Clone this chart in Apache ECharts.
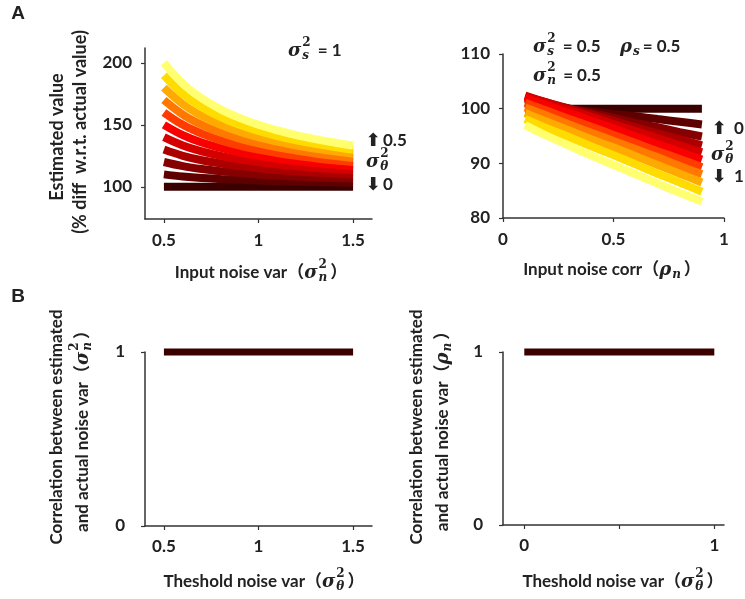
<!DOCTYPE html>
<html><head><meta charset="utf-8">
<script src="https://cdn.jsdelivr.net/npm/echarts@6/dist/echarts.min.js"></script>
<style>html,body{margin:0;padding:0;background:#fff}#c{width:745px;height:599px}</style>
</head><body><div id="c"></div><script>
// ---------------- DATA ----------------
// Panel A left: estimated value (% of actual) vs input noise var, one row per threshold noise var
const noiseVar = [0.5, 0.6, 0.7, 0.8, 0.9, 1.0, 1.1, 1.2, 1.3, 1.4, 1.5];
const thetaLeft = [0, 0.05, 0.1, 0.15, 0.2, 0.25, 0.3, 0.35, 0.4, 0.45, 0.5];
const estLeft = [
  [100, 100, 100, 100, 100, 100, 100, 100, 100, 100, 100],
  [110, 108.3, 107.1, 106.3, 105.6, 105, 104.5, 104.2, 103.8, 103.6, 103.3],
  [120, 116.7, 114.3, 112.5, 111.1, 110, 109.1, 108.3, 107.7, 107.1, 106.7],
  [130, 125, 121.4, 118.8, 116.7, 115, 113.6, 112.5, 111.5, 110.7, 110],
  [140, 133.3, 128.6, 125, 122.2, 120, 118.2, 116.7, 115.4, 114.3, 113.3],
  [150, 141.7, 135.7, 131.3, 127.8, 125, 122.7, 120.8, 119.2, 117.9, 116.7],
  [160, 150, 142.9, 137.5, 133.3, 130, 127.3, 125, 123.1, 121.4, 120],
  [170, 158.3, 150, 143.8, 138.9, 135, 131.8, 129.2, 126.9, 125, 123.3],
  [180, 166.7, 157.1, 150, 144.4, 140, 136.4, 133.3, 130.8, 128.6, 126.7],
  [190, 175, 164.3, 156.3, 150, 145, 140.9, 137.5, 134.6, 132.1, 130],
  [200, 183.3, 171.4, 162.5, 155.6, 150, 145.5, 141.7, 138.5, 135.7, 133.3]
];
// Panel A right: estimated value vs input noise corr, one row per threshold noise var
const noiseCorr = [0.1, 0.2, 0.3, 0.4, 0.5, 0.6, 0.7, 0.8, 0.9];
const thetaRight = [0, 0.1, 0.2, 0.3, 0.4, 0.5, 0.6, 0.7, 0.8, 0.9, 1];
const estRight = [
  [100, 100, 100, 100, 100, 100, 100, 100, 100],
  [100.9, 100.4, 99.9, 99.5, 99.0, 98.6, 98.1, 97.6, 97.1],
  [101.7, 100.9, 100.0, 99.2, 98.3, 97.4, 96.6, 95.7, 94.9],
  [102.2, 101.1, 100.0, 98.9, 97.8, 96.6, 95.5, 94.4, 93.3],
  [102.4, 101.1, 99.8, 98.5, 97.2, 95.9, 94.6, 93.3, 92.0],
  [102.0, 100.6, 99.2, 97.8, 96.4, 94.9, 93.5, 92.1, 90.7],
  [101.1, 99.6, 98.1, 96.7, 95.2, 93.7, 92.2, 90.8, 89.3],
  [100.2, 98.7, 97.1, 95.6, 94.1, 92.6, 91.1, 89.5, 88.0],
  [99.2, 97.6, 96.0, 94.4, 92.9, 91.3, 89.7, 88.1, 86.5],
  [98.1, 96.4, 94.8, 93.1, 91.5, 89.8, 88.1, 86.5, 84.8],
  [97.0, 95.0, 93.2, 91.4, 89.7, 88.0, 86.3, 84.6, 83.0]
];
// Panel B: correlation between estimated and actual
const thetaB1 = [0.5, 1.5];
const corrB1 = [1, 1];
const thetaB2 = [0, 1];
const corrB2 = [1, 1];
// tick labels
const ticksAX1 = [0.5, 1, 1.5];
const ticksAY1 = [100, 150, 200];
const ticksAX2 = [0, 0.5, 1];
const ticksAY2 = [80, 90, 100, 110];
const ticksBX1 = [0.5, 1, 1.5];
const ticksBY = [0, 1];
const ticksBX2 = [0, 0.5, 1];
const labelsBX2 = [0, 1];

// ---------------- STYLE ----------------
const colors = ['#3a0000','#5e0000','#850000','#ac0000','#d40000','#f80000','#ff3c00','#ff7800','#ffaa00','#ffdc00','#ffff70'];
const TXT = '#222';
const SANS = "Lato, 'Noto Sans CJK SC', sans-serif";
const SERIF = "'DejaVu Serif', serif";
const meas = document.createElement('canvas').getContext('2d');
function tw(t, font) { meas.font = font; return meas.measureText(t).width; }
function fnt(size, italic, fam) { return (italic ? 'italic ' : '') + 'bold ' + size + 'px ' + fam; }
function txt(t, x, y, font, align) {
  return {type: 'text', x: x, y: y, silent: true,
    style: {text: t, font: font, fill: TXT, textAlign: align || 'left', textVerticalAlign: 'middle', align: align || 'left', verticalAlign: 'middle'}};
}
function mathLabel(items, x, y, opts) {
  opts = opts || {};
  const size = opts.size || 17;
  const kids = []; let cx = 0;
  items.forEach(function (it) {
    if (typeof it === 'string') {
      const f = fnt(size, false, SANS);
      kids.push(txt(it, cx, 0, f)); cx += tw(it, f);
    } else {
      const f = fnt(18, true, SERIF);
      kids.push(txt(it.sym, cx, 0, f)); cx += tw(it.sym, f) + 1;
      let w = 0;
      if (it.sup) { const fs = fnt(12, false, SERIF); kids.push(txt(it.sup, cx, -8, fs)); w = Math.max(w, tw(it.sup, fs)); }
      if (it.sub) { const fb = fnt(12, true, SERIF); kids.push(txt(it.sub, cx, 5, fb)); w = Math.max(w, tw(it.sub, fb)); }
      cx += w + 3;
    }
  });
  const off = opts.align === 'left' ? 0 : (opts.align === 'right' ? -cx : -cx / 2);
  kids.forEach(function (k) { k.x += off; });
  return {type: 'group', x: x, y: y, rotation: opts.rot || 0, silent: true, children: kids};
}

const axisLine = {show: true, onZero: false, lineStyle: {color: '#333', width: 1.5}};
const lblFont = {color: TXT, fontWeight: 'bold', fontSize: 17, fontFamily: SANS};
function valAxis(grid, min, max, ticks, labels, margin, extra) {
  return Object.assign({
    type: 'value', gridIndex: grid, min: min, max: max,
    axisLine: axisLine,
    axisTick: {show: true, length: 4, customValues: ticks, lineStyle: {color: '#333', width: 1.2}},
    axisLabel: Object.assign({customValues: labels, margin: margin, formatter: function (v) { return String(v); }}, lblFont),
    splitLine: {show: false}
  }, extra || {});
}

const series = [];
estLeft.forEach(function (row, i) {
  series.push({type: 'line', name: 'θ=' + thetaLeft[i], xAxisIndex: 0, yAxisIndex: 0, smooth: 0.4, showSymbol: false, clip: false, silent: true,
    data: noiseVar.map(function (x, j) { return [x, row[j]]; }),
    lineStyle: {width: 8, color: colors[i], cap: 'butt'}});
});
estRight.forEach(function (row, i) {
  series.push({type: 'line', name: 'θ=' + thetaRight[i], xAxisIndex: 1, yAxisIndex: 1, smooth: 0.2, showSymbol: false, clip: false, silent: true,
    data: noiseCorr.map(function (x, j) { return [x, row[j]]; }),
    lineStyle: {width: 8, color: colors[i], cap: 'butt'}});
});
series.push({type: 'line', xAxisIndex: 2, yAxisIndex: 2, showSymbol: false, clip: false, silent: true,
  data: thetaB1.map(function (x, j) { return [x, corrB1[j]]; }), lineStyle: {width: 7, color: '#3a0000', cap: 'butt'}});
series.push({type: 'line', xAxisIndex: 3, yAxisIndex: 3, showSymbol: false, clip: false, silent: true,
  data: thetaB2.map(function (x, j) { return [x, corrB2[j]]; }), lineStyle: {width: 7, color: '#3a0000', cap: 'butt'}});

const R = Math.PI / 2;
const ARW = 'bold 18px "DejaVu Sans"';
const graphics = [
  txt('A', 18, 14, 'bold 19px "Liberation Sans", Arial', 'center'),
  txt('B', 18, 297, 'bold 19px "Liberation Sans", Arial', 'center'),
  // axis titles
  mathLabel(['Input noise var（', {sym: 'σ', sup: '2', sub: 'n'}, '）'], 261, 273),
  mathLabel(['Input noise corr（', {sym: 'ρ', sub: 'n'}, '）'], 612, 270),
  mathLabel(['Theshold noise var（', {sym: 'σ', sup: '2', sub: 'θ'}, '）'], 264, 582),
  mathLabel(['Theshold noise var（', {sym: 'σ', sup: '2', sub: 'θ'}, '）'], 623, 582),
  mathLabel(['Estimated value'], 57, 137, {rot: R, size: 18}),
  mathLabel(['(% diff  w.r.t. actual value)'], 80, 132, {rot: R, size: 18}),
  mathLabel(['Correlation between estimated'], 57, 427, {rot: R, size: 17}),
  mathLabel(['and actual noise var（', {sym: 'σ', sup: '2', sub: 'n'}, '）'], 83, 427, {rot: R, size: 17}),
  mathLabel(['Correlation between estimated'], 417, 427, {rot: R, size: 17}),
  mathLabel(['and actual noise var（', {sym: 'ρ', sub: 'n'}, '）'], 443, 427, {rot: R, size: 17}),
  // annotations
  mathLabel([{sym: 'σ', sup: '2', sub: 's'}, ' = 1'], 288, 51, {align: 'left'}),
  mathLabel([{sym: 'σ', sup: '2', sub: 's'}, ' = 0.5'], 533, 47, {align: 'left'}),
  mathLabel([{sym: 'ρ', sub: 's'}, '= 0.5'], 620, 47, {align: 'left'}),
  mathLabel([{sym: 'σ', sup: '2', sub: 'n'}, ' = 0.5'], 533, 76, {align: 'left'}),
  txt('⬆', 373, 141, ARW, 'center'),
  txt('0.5', 383, 141, fnt(17, false, SANS)),
  mathLabel([{sym: 'σ', sup: '2', sub: 'θ'}], 366, 162, {align: 'left'}),
  txt('⬇', 373, 185, ARW, 'center'),
  txt('0', 383, 185, fnt(17, false, SANS)),
  txt('⬆', 719, 129, ARW, 'center'),
  txt('0', 734, 129, fnt(17, false, SANS)),
  mathLabel([{sym: 'σ', sup: '2', sub: 'θ'}], 711, 155, {align: 'left'}),
  txt('⬇', 719, 177, ARW, 'center'),
  txt('1', 734, 177, fnt(17, false, SANS))
];

const option = {
  animation: false,
  backgroundColor: '#fff',
  grid: [
    {left: 145, top: 48, width: 227, height: 171, containLabel: false, outerBoundsMode: 'none'},
    {left: 503, top: 54, width: 221, height: 164, containLabel: false, outerBoundsMode: 'none'},
    {left: 145, top: 352, width: 227, height: 174, containLabel: false, outerBoundsMode: 'none'},
    {left: 503, top: 352, width: 221, height: 173, containLabel: false, outerBoundsMode: 'none'}
  ],
  xAxis: [
    valAxis(0, 0.4, 1.6, ticksAX1, ticksAX1, 13),
    valAxis(1, 0, 1, ticksAX2, ticksAX2, 13),
    valAxis(2, 0.4, 1.6, ticksBX1, ticksBX1, 12),
    valAxis(3, -0.112, 1.051, ticksBX2, labelsBX2, 12)
  ],
  yAxis: [
    valAxis(0, 74, 212, ticksAY1, ticksAY1, 13),
    valAxis(1, 80, 110, ticksAY2, ticksAY2, 13),
    valAxis(2, 0, 1, ticksBY, ticksBY, 20),
    valAxis(3, 0, 1, ticksBY, ticksBY, 20)
  ],
  series: series,
  graphic: graphics
};
const chart = echarts.init(document.getElementById('c'), null, {renderer: 'canvas'});
chart.setOption(option);
</script></body></html>
